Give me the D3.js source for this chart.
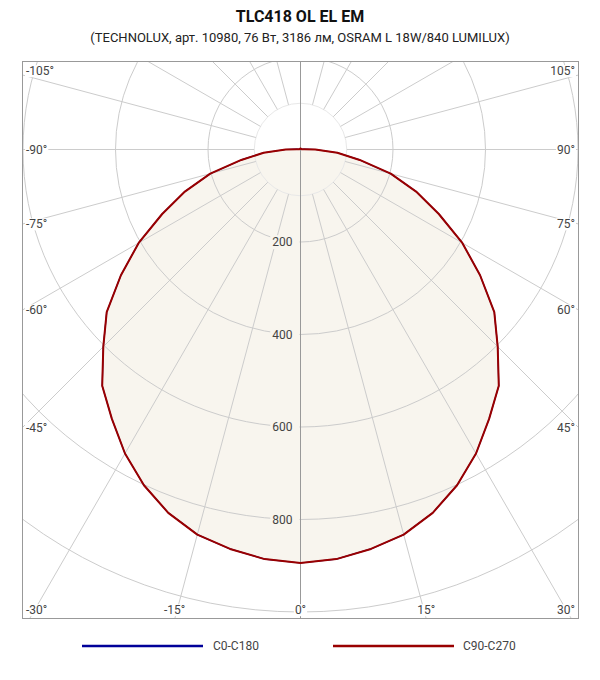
<!DOCTYPE html>
<html>
<head>
<meta charset="utf-8">
<script src="https://cdn.jsdelivr.net/npm/d3@7"></script>
<style>
  html, body { margin: 0; padding: 0; background: #fff; }
  svg { display: block; }
</style>
</head>
<body>
<svg id="chart" width="600" height="680"></svg>
<script>
// ---- data ----
const title = "TLC418 OL EL EM";
const subtitle = "(TECHNOLUX, арт. 10980, 76 Вт, 3186 лм, OSRAM L 18W/840 LUMILUX)";
const seriesNames = ["C0-C180", "C90-C270"];
const seriesColors = ["#000099", "#990000"];
// gamma angles 0..180 step 5 (symmetric plane)
const gammaAngles = [0,5,10,15,20,25,30,35,40,45,50,55,60,65,70,75,80,85,90,95,100,105,110,115,120,125,130,135,140,145,150,155,160,165,170,175,180];
const c0c180  = [894,889,877,862,836,801,759,711,667,603,547,474,404,330,266,202,130,80,32,8,3,2,2,2,2,2,2,2,2,2,2,2,2,2,2,2,2];
const c90c270 = [894,889,877,862,836,801,759,711,667,603,547,474,404,330,266,202,130,80,32,8,3,2,2,2,2,2,2,2,2,2,2,2,2,2,2,2,2];
const radialTicks = [200, 400, 600, 800, 1000, 1200];
const innerTick = 100;
const angleLabels = [-105,-90,-75,-60,-45,-30,-15,0,15,30,45,60,75,90,105];

// ---- layout ----
const svg = d3.select("#chart");
const box = {x0: 22, y0: 61, x1: 579, y1: 619};
const cx = 300.5, cy = 149.5;
const r = d3.scaleLinear().domain([0, 1000]).range([0, 462.5]);
const font = "Roboto, 'Open Sans', sans-serif";

svg.append("text").attr("x", 300).attr("y", 22).attr("text-anchor", "middle")
  .style("font-family", font).style("font-weight", "bold").style("font-size", "16px")
  .attr("fill", "#111").text(title);
svg.append("text").attr("x", 300).attr("y", 42).attr("text-anchor", "middle")
  .style("font-family", font).style("font-size", "13px")
  .attr("fill", "#222").text(subtitle);

svg.append("defs").append("clipPath").attr("id", "clip")
  .append("rect").attr("x", box.x0).attr("y", box.y0)
  .attr("width", box.x1 - box.x0).attr("height", box.y1 - box.y0);

const plot = svg.append("g").attr("clip-path", "url(#clip)");
const g = plot.append("g").attr("transform", `translate(${cx},${cy})`);

// full symmetric series: angle theta (deg, + to the right, 0 = down)
function fullSeries(vals) {
  const pts = [];
  for (let i = gammaAngles.length - 1; i > 0; i--) pts.push([-gammaAngles[i], vals[i]]);
  for (let i = 0; i < gammaAngles.length - 1; i++) pts.push([gammaAngles[i], vals[i]]);
  return pts;
}
const toA = th => Math.PI - th * Math.PI / 180;
const radial = d3.lineRadial().angle(d => toA(d[0])).radius(d => r(d[1]))
  .curve(d3.curveLinearClosed);

// fill
g.append("path").datum(fullSeries(c90c270)).attr("d", radial)
  .attr("fill", "#F8F5EE").attr("stroke", "none");

// grid circles
g.append("circle").attr("r", r(innerTick)).attr("fill", "none").attr("stroke", "#e8e8e8");
g.selectAll("circle.grid").data(radialTicks).join("circle").attr("class", "grid")
  .attr("r", d => r(d)).attr("fill", "none").attr("stroke", "#cccccc").attr("stroke-width", 1);

// radial spokes every 15 degrees
const spokes = d3.range(0, 360, 15).filter(a => a !== 0 && a !== 180);
g.selectAll("line.spoke").data(spokes).join("line").attr("class", "spoke")
  .attr("x1", d => r(innerTick) * Math.sin(toA(d))).attr("y1", d => -r(innerTick) * Math.cos(toA(d)))
  .attr("x2", d => 900 * Math.sin(toA(d))).attr("y2", d => -900 * Math.cos(toA(d)))
  .attr("stroke", "#cccccc").attr("stroke-width", 1);
// vertical axis
g.append("line").attr("x1", 0).attr("x2", 0).attr("y1", box.y0 - cy).attr("y2", box.y1 - cy)
  .attr("stroke", "#999").attr("stroke-width", 1);

// curves (C0-C180 lies underneath C90-C270)
const series = [c0c180, c90c270];
series.forEach((vals, i) => {
  g.append("path").datum(fullSeries(vals)).attr("d", radial)
    .attr("fill", "none").attr("stroke", seriesColors[i]).attr("stroke-width", i === 0 ? 1.2 : 2)
    .attr("stroke-linejoin", "round");
});

// value labels
[200, 400, 600, 800].forEach(v => {
  const t = svg.append("text").attr("x", cx - 8).attr("y", cy + r(v)).attr("dy", "0.35em")
    .attr("text-anchor", "end").style("font-family", font).style("font-size", "12px")
    .attr("fill", "#444").text(v);
  const bb = t.node().getBBox();
  svg.insert("rect", () => t.node()).attr("x", bb.x - 2).attr("y", bb.y)
    .attr("width", cx - 1 - (bb.x - 2)).attr("height", bb.height).attr("fill", "#F8F5EE");
});

// border
svg.append("rect").attr("x", box.x0 + 0.5).attr("y", box.y0 + 0.5)
  .attr("width", box.x1 - box.x0 - 1).attr("height", box.y1 - box.y0 - 1)
  .attr("fill", "none").attr("stroke", "#999");

// angle labels
angleLabels.forEach(th => {
  const rad = th * Math.PI / 180;
  const dx = Math.sin(rad), dy = Math.cos(rad);
  let tMin = Infinity, edge = null;
  if (dx < -1e-9) { const t = (box.x0 - cx) / dx; if (t < tMin) { tMin = t; edge = "left"; } }
  if (dx > 1e-9) { const t = (box.x1 - cx) / dx; if (t < tMin) { tMin = t; edge = "right"; } }
  if (dy > 1e-9) { const t = (box.y1 - cy) / dy; if (t < tMin) { tMin = t; edge = "bottom"; } }
  if (dy < -1e-9) { const t = (box.y0 - cy) / dy; if (t < tMin) { tMin = t; edge = "top"; } }
  const px = cx + dx * tMin, py = cy + dy * tMin;
  const txt = (th < 0 ? "-" + Math.abs(th) : th) + "°";
  const t = svg.append("text").style("font-family", font).style("font-size", "12px")
    .attr("fill", "#444").attr("dy", "0.35em").text(txt);
  const w = t.node().getComputedTextLength();
  let x, y, anchor;
  if (edge === "left") { x = box.x0 + 4; anchor = "start"; y = Math.max(box.y0 + 10, Math.min(box.y1 - 10, py)); }
  else if (edge === "right") { x = box.x1 - 4; anchor = "end"; y = Math.max(box.y0 + 10, Math.min(box.y1 - 10, py)); }
  else { anchor = "middle"; y = box.y1 - 9; x = Math.max(box.x0 + 4 + w / 2, Math.min(box.x1 - 4 - w / 2, px)); }
  if (th === -105 || th === 105) y = Math.min(y, box.y0 + 10);
  t.attr("x", x).attr("y", y).attr("text-anchor", anchor);
  const bb = t.node().getBBox();
  svg.insert("rect", () => t.node()).attr("x", bb.x - 1).attr("y", bb.y + 1)
    .attr("width", bb.width + 2).attr("height", bb.height - 2).attr("fill", "#fff");
});

// legend
const legY = 646;
const legItems = [{x: 82, tx: 213}, {x: 333, tx: 463}];
legItems.forEach((it, i) => {
  svg.append("line").attr("x1", it.x).attr("x2", it.x + 121).attr("y1", legY).attr("y2", legY)
    .attr("stroke", seriesColors[i]).attr("stroke-width", 2.5);
  svg.append("text").attr("x", it.tx).attr("y", legY).attr("dy", "0.35em")
    .style("font-family", font).style("font-size", "12px").attr("fill", "#444").text(seriesNames[i]);
});
</script>
</body>
</html>
